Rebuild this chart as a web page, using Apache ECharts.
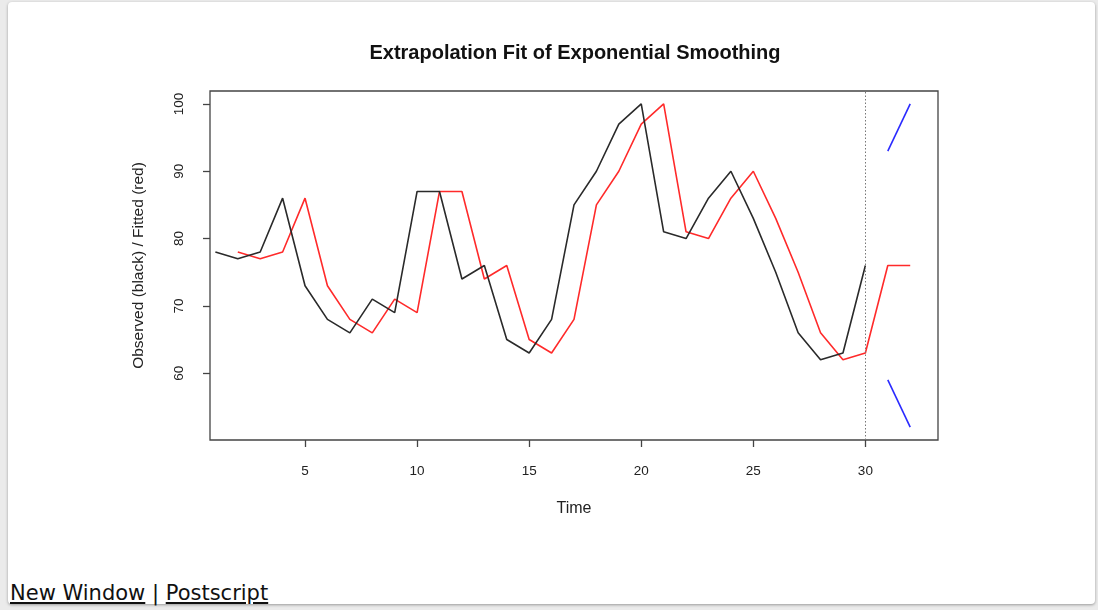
<!DOCTYPE html>
<html>
<head>
<meta charset="utf-8">
<script src="https://cdn.jsdelivr.net/npm/echarts@6/dist/echarts.min.js"></script>
<style>
  html, body { margin: 0; padding: 0; width: 1098px; height: 610px; background: #ebebeb; overflow: hidden; }
  #card { position: absolute; left: 8px; top: 2px; width: 1087px; height: 602px; background: #fff;
          border-radius: 4px; box-shadow: 0 1px 3px rgba(0,0,0,0.35); }
  #chart { position: absolute; left: 0; top: 0; width: 1098px; height: 570px; }
  #links { position: absolute; left: 10px; top: 583px; font-family: "DejaVu Sans", sans-serif; font-size: 21px;
           line-height: 21px; color: #111; white-space: nowrap; }
  #links a { color: #111; text-decoration: underline; }
</style>
</head>
<body>
<div id="card"></div>
<div id="chart"></div>
<div id="links"><a href="#">New Window</a> | <a href="#">Postscript</a></div>
<script>
// ---- data ----
const titleText = "Extrapolation Fit of Exponential Smoothing";
const xTicks = [5, 10, 15, 20, 25, 30];
const yTicks = [60, 70, 80, 90, 100];
const observedTime = [1,2,3,4,5,6,7,8,9,10,11,12,13,14,15,16,17,18,19,20,21,22,23,24,25,26,27,28,29,30];
const observed     = [78,77,78,86,73,68,66,71,69,87,87,74,76,65,63,68,85,90,97,100,81,80,86,90,83,75,66,62,63,76];
const fittedTime   = [2,3,4,5,6,7,8,9,10,11,12,13,14,15,16,17,18,19,20,21,22,23,24,25,26,27,28,29,30,31,32];
const fitted       = [78,77,78,86,73,68,66,71,69,87,87,74,76,65,63,68,85,90,97,100,81,80,86,90,83,75,66,62,63,76,76];
const boundTime    = [31, 32];
const upperBound   = [93, 100];
const lowerBound   = [59, 52];
const forecastOrigin = 30;
const xRange = [0.76, 33.24];
const yRange = [50.08, 101.92];

const pair = (xs, ys) => xs.map((x, i) => [x, ys[i]]);
const font = '"Liberation Sans", Arial, Helvetica, sans-serif';

const chart = echarts.init(document.getElementById('chart'), null, { renderer: 'canvas' });
chart.setOption({
  animation: false,
  backgroundColor: 'transparent',
  graphic: [{
    type: 'text', x: 575, y: 53,
    style: { text: titleText, font: 'bold 20px ' + font, fill: '#111', textAlign: 'center', textVerticalAlign: 'middle' }
  }],
  grid: { left: 210, top: 91, width: 728, height: 349, show: true, borderColor: '#444', borderWidth: 1.3, backgroundColor: 'transparent' },
  xAxis: {
    type: 'value', min: xRange[0], max: xRange[1],
    name: 'Time', nameLocation: 'middle', nameGap: 61,
    nameTextStyle: { fontFamily: font, fontSize: 16, color: '#222' },
    axisLine: { show: false },
    splitLine: { show: false },
    axisTick: { show: true, length: 7, inside: false, customValues: xTicks, lineStyle: { color: '#444', width: 1.3 } },
    axisLabel: { customValues: xTicks, margin: 24, fontFamily: font, fontSize: 13.5, color: '#222' }
  },
  yAxis: {
    type: 'value', min: yRange[0], max: yRange[1],
    name: 'Observed (black) / Fitted (red)', nameLocation: 'middle', nameGap: 63, nameRotate: 90,
    nameTextStyle: { fontFamily: font, fontSize: 15.5, color: '#222' },
    axisLine: { show: false },
    splitLine: { show: false },
    axisTick: { show: true, length: 7, inside: false, customValues: yTicks, lineStyle: { color: '#444', width: 1.3 } },
    axisLabel: { customValues: yTicks, rotate: 90, margin: 24, fontFamily: font, fontSize: 13.5, color: '#222' }
  },
  series: [
    {
      name: 'Observed', type: 'line', data: pair(observedTime, observed), showSymbol: false,
      lineStyle: { color: '#2a2a2a', width: 1.6 }, z: 3,
      markLine: {
        silent: true, symbol: 'none', label: { show: false },
        lineStyle: { color: '#777', type: [1.5, 2], width: 1 },
        data: [{ xAxis: forecastOrigin }]
      }
    },
    { name: 'Fitted', type: 'line', data: pair(fittedTime, fitted), showSymbol: false, lineStyle: { color: '#ff2a2a', width: 1.6 }, z: 2 },
    { name: 'Upper', type: 'line', data: pair(boundTime, upperBound), showSymbol: false, lineStyle: { color: '#2a2aff', width: 1.6 } },
    { name: 'Lower', type: 'line', data: pair(boundTime, lowerBound), showSymbol: false, lineStyle: { color: '#2a2aff', width: 1.6 } }
  ]
});
</script>
</body>
</html>
